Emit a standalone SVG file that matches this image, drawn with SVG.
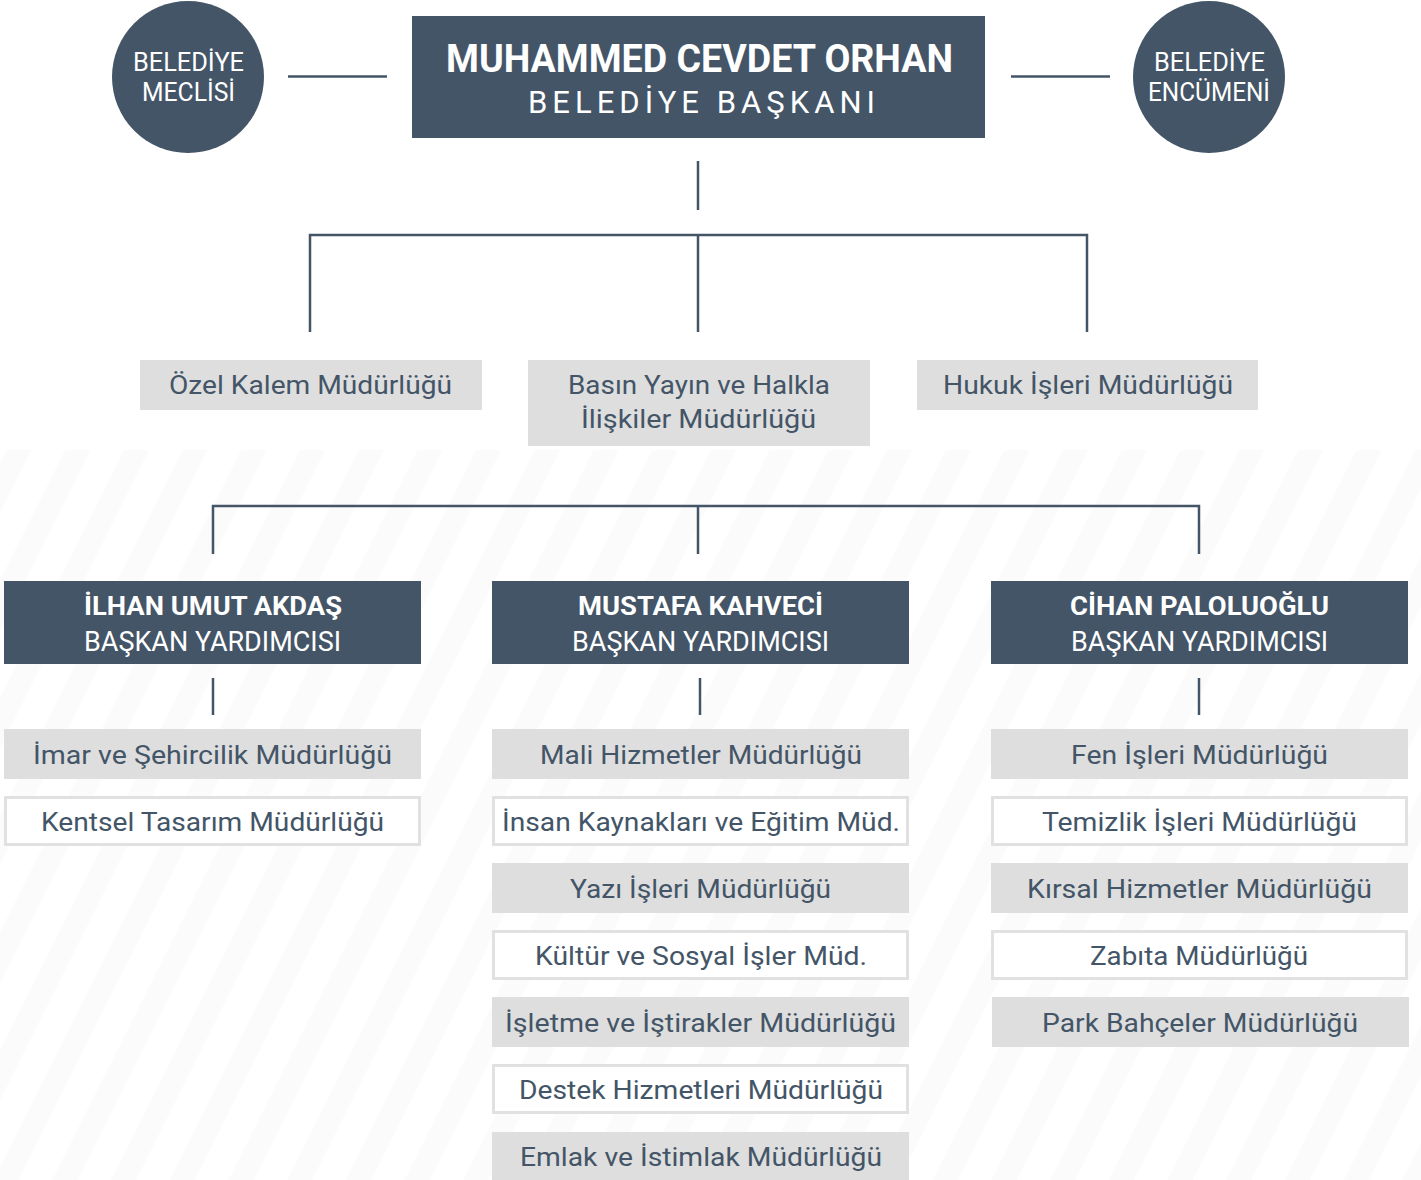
<svg xmlns="http://www.w3.org/2000/svg" width="1421" height="1180" viewBox="0 0 1421 1180">
<defs>
<style>
.dk{fill:#435567}
.ln{stroke:#435567;stroke-width:2.5;fill:none}
.fb{fill:#dedede}
.ob{fill:#ffffff;stroke:#e1e1e1;stroke-width:3}
.t{font-family:Roboto,"Liberation Sans",sans-serif;fill:#435567;font-size:26px;text-anchor:middle}
.w{fill:#ffffff}
.b{font-weight:700}
</style>
<pattern id="stripes" patternUnits="userSpaceOnUse" x="49.6" y="0" width="52.5" height="10" patternTransform="rotate(26.57)">
<rect width="22.4" height="10" fill="#fbfbfb"/>
</pattern>
</defs>
<rect width="1421" height="1180" fill="#ffffff"/>
<rect x="0" y="450" width="1421" height="730" fill="url(#stripes)"/>

<g id="connectors" class="ln">
<path d="M288 76.5H387"/>
<path d="M1011 76.5H1110"/>
<path d="M698 161V210"/>
<path d="M310 332V235H1087V332"/>
<path d="M698 235V332"/>
<path d="M213 554V506H1199V554"/>
<path d="M698 506V554"/>
<path d="M213 678V715"/>
<path d="M700 678V715"/>
<path d="M1199 678V715"/>
</g>

<g id="belediye-meclisi">
<circle class="dk" cx="188" cy="77" r="76"/>
<text class="t w" font-size="25" x="188.5" y="71" textLength="111" lengthAdjust="spacingAndGlyphs">BELEDİYE</text>
<text class="t w" font-size="25" x="188.5" y="101" textLength="93" lengthAdjust="spacingAndGlyphs">MECLİSİ</text>
</g>

<g id="baskan">
<rect class="dk" x="412" y="16" width="573" height="122"/>
<text class="t w b" style="font-size:39px" x="699.5" y="72" textLength="507" lengthAdjust="spacingAndGlyphs">MUHAMMED CEVDET ORHAN</text>
<text class="t w" style="font-size:31px" x="701.5" y="113" textLength="347" lengthAdjust="spacing">BELEDİYE BAŞKANI</text>
</g>

<g id="belediye-encumeni">
<circle class="dk" cx="1209" cy="77" r="76"/>
<text class="t w" font-size="25" x="1209.5" y="71" textLength="111" lengthAdjust="spacingAndGlyphs">BELEDİYE</text>
<text class="t w" font-size="25" x="1209" y="101" textLength="122" lengthAdjust="spacingAndGlyphs">ENCÜMENİ</text>
</g>

<g id="ozel-kalem">
<rect class="fb" x="140" y="360" width="342" height="50"/>
<text class="t" x="310.5" y="394" textLength="283" lengthAdjust="spacingAndGlyphs">Özel Kalem Müdürlüğü</text>
</g>
<g id="basin-yayin">
<rect class="fb" x="528" y="360" width="342" height="86"/>
<text class="t" x="699" y="394" textLength="262" lengthAdjust="spacingAndGlyphs">Basın Yayın ve Halkla</text>
<text class="t" x="698.5" y="428" textLength="235" lengthAdjust="spacingAndGlyphs">İlişkiler Müdürlüğü</text>
</g>
<g id="hukuk">
<rect class="fb" x="917" y="360" width="341" height="50"/>
<text class="t" x="1088" y="394" textLength="290" lengthAdjust="spacingAndGlyphs">Hukuk İşleri Müdürlüğü</text>
</g>

<g id="vp-ilhan">
<rect class="dk" x="4" y="581" width="417" height="83"/>
<text class="t w b" style="font-size:26px" x="213" y="615" textLength="258" lengthAdjust="spacingAndGlyphs">İLHAN UMUT AKDAŞ</text>
<text class="t w" style="font-size:27px" x="212.5" y="651" textLength="257" lengthAdjust="spacingAndGlyphs">BAŞKAN YARDIMCISI</text>
</g>
<g id="vp-mustafa">
<rect class="dk" x="492" y="581" width="417" height="83"/>
<text class="t w b" style="font-size:26px" x="700.5" y="615" textLength="245" lengthAdjust="spacingAndGlyphs">MUSTAFA KAHVECİ</text>
<text class="t w" style="font-size:27px" x="700.5" y="651" textLength="257" lengthAdjust="spacingAndGlyphs">BAŞKAN YARDIMCISI</text>
</g>
<g id="vp-cihan">
<rect class="dk" x="991" y="581" width="417" height="83"/>
<text class="t w b" style="font-size:26px" x="1199.5" y="615" textLength="259" lengthAdjust="spacingAndGlyphs">CİHAN PALOLUOĞLU</text>
<text class="t w" style="font-size:27px" x="1199.5" y="651" textLength="257" lengthAdjust="spacingAndGlyphs">BAŞKAN YARDIMCISI</text>
</g>

<g id="imar">
<rect class="fb" x="4" y="729" width="417" height="50"/>
<text class="t" x="212.5" y="764" textLength="359" lengthAdjust="spacingAndGlyphs">İmar ve Şehircilik Müdürlüğü</text>
</g>
<g id="kentsel">
<rect class="ob" x="5.5" y="797.5" width="414" height="47"/>
<text class="t" x="212.5" y="831" textLength="343" lengthAdjust="spacingAndGlyphs">Kentsel Tasarım Müdürlüğü</text>
</g>

<g id="mali">
<rect class="fb" x="492" y="729" width="417" height="50"/>
<text class="t" x="701" y="764" textLength="322" lengthAdjust="spacingAndGlyphs">Mali Hizmetler Müdürlüğü</text>
</g>
<g id="insan">
<rect class="ob" x="493.5" y="797.5" width="414" height="47"/>
<text class="t" x="701" y="831" textLength="398" lengthAdjust="spacingAndGlyphs">İnsan Kaynakları ve Eğitim Müd.</text>
</g>
<g id="yazi">
<rect class="fb" x="492" y="863" width="417" height="50"/>
<text class="t" x="700.5" y="898" textLength="261" lengthAdjust="spacingAndGlyphs">Yazı İşleri Müdürlüğü</text>
</g>
<g id="kultur">
<rect class="ob" x="493.5" y="931.5" width="414" height="47"/>
<text class="t" x="701" y="965" textLength="332" lengthAdjust="spacingAndGlyphs">Kültür ve Sosyal İşler Müd.</text>
</g>
<g id="isletme">
<rect class="fb" x="492" y="997" width="417" height="50"/>
<text class="t" x="700.5" y="1032" textLength="391" lengthAdjust="spacingAndGlyphs">İşletme ve İştirakler Müdürlüğü</text>
</g>
<g id="destek">
<rect class="ob" x="493.5" y="1065.5" width="414" height="47"/>
<text class="t" x="701" y="1099" textLength="364" lengthAdjust="spacingAndGlyphs">Destek Hizmetleri Müdürlüğü</text>
</g>
<g id="emlak">
<rect class="fb" x="492" y="1132" width="417" height="50"/>
<text class="t" x="701" y="1166" textLength="362" lengthAdjust="spacingAndGlyphs">Emlak ve İstimlak Müdürlüğü</text>
</g>

<g id="fen">
<rect class="fb" x="991" y="729" width="417" height="50"/>
<text class="t" x="1199.5" y="764" textLength="257" lengthAdjust="spacingAndGlyphs">Fen İşleri Müdürlüğü</text>
</g>
<g id="temizlik">
<rect class="ob" x="992.5" y="797.5" width="414" height="47"/>
<text class="t" x="1199.5" y="831" textLength="315" lengthAdjust="spacingAndGlyphs">Temizlik İşleri Müdürlüğü</text>
</g>
<g id="kirsal">
<rect class="fb" x="991" y="863" width="417" height="50"/>
<text class="t" x="1199.5" y="898" textLength="345" lengthAdjust="spacingAndGlyphs">Kırsal Hizmetler Müdürlüğü</text>
</g>
<g id="zabita">
<rect class="ob" x="992.5" y="931.5" width="414" height="47"/>
<text class="t" x="1199" y="965" textLength="218" lengthAdjust="spacingAndGlyphs">Zabıta Müdürlüğü</text>
</g>
<g id="park">
<rect class="fb" x="992" y="997" width="417" height="50"/>
<text class="t" x="1200" y="1032" textLength="316" lengthAdjust="spacingAndGlyphs">Park Bahçeler Müdürlüğü</text>
</g>
</svg>
